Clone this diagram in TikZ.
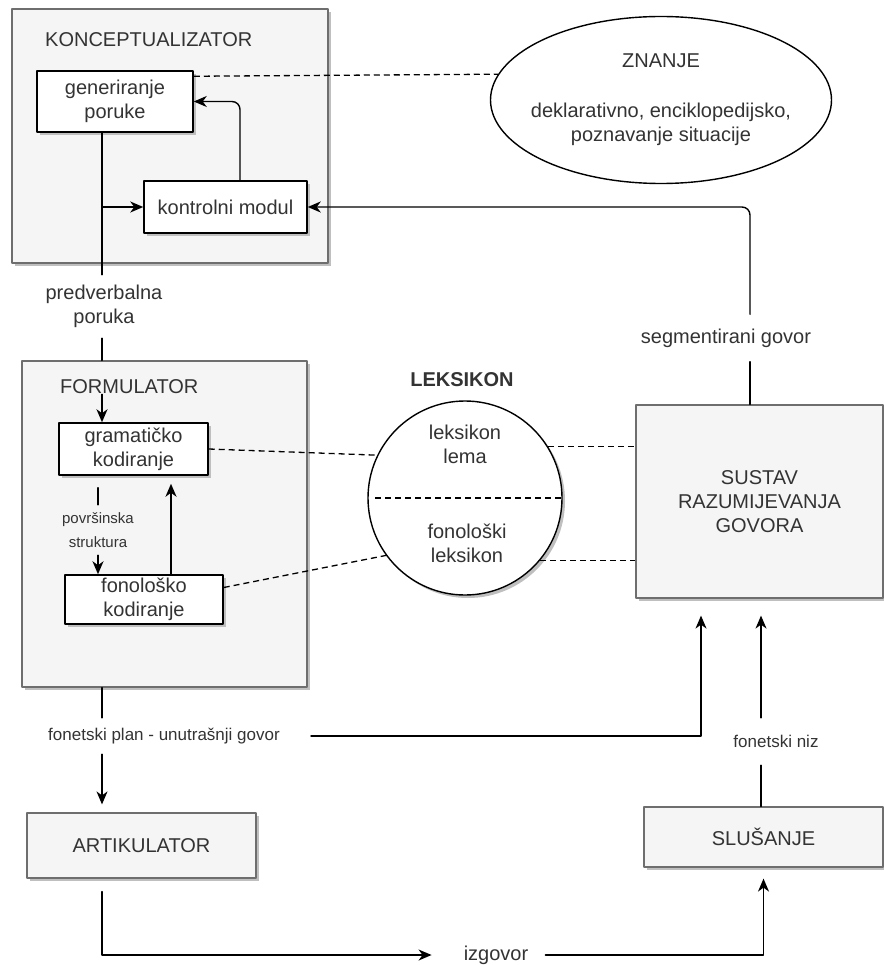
\documentclass[tikz,border=0pt]{standalone}
\usepackage{fontspec}
\setmainfont{Liberation Sans}
\usetikzlibrary{arrows.meta,shapes.geometric,shadows}
\definecolor{txtgray}{RGB}{51,51,51}
\definecolor{boxfill}{RGB}{245,245,245}
\definecolor{boxline}{RGB}{110,110,110}

\begin{document}
\begin{tikzpicture}[line cap=round,line join=round,>={Stealth[length=13pt,width=11pt,inset=4pt]},x=1pt,y=-1pt,
  txt/.style={text=txtgray,font=\fontsize{20}{24}\selectfont,align=center,inner sep=0pt},
  lbl/.style={text=txtgray,font=\fontsize{17}{21}\selectfont,align=center,inner sep=0pt},
  shad/.style={general shadow={fill=black!25,shadow xshift=3pt,shadow yshift=-3pt}},
  group/.style={draw=boxline,fill=boxfill,shad,line width=1.2pt},
  unit/.style={draw=black,fill=white,shad,line width=1.5pt,txt},
  dashline/.style={line cap=butt,dash pattern=on 6pt off 4pt,line width=1.3pt},
  link/.style={line width=1.4pt}]
\useasboundingbox (0,0) rectangle (883,965);
\coordinate (vl) at (102,0);
\coordinate (vs) at (750,0);
\coordinate (va) at (701,0);
\coordinate (vr) at (761,0);
% konceptualizator
\node[group,minimum width=316pt,minimum height=254pt] (konc) at (170,136) {};
\node[txt,anchor=west] (kl) at (45,40) {KONCEPTUALIZATOR};
\node[unit,minimum width=156pt,minimum height=61pt] (gen) at (115,101.5) {generiranje\\poruke};
\node[unit,minimum width=163pt,minimum height=52pt] (kon) at (225.5,207) {kontrolni modul};
\node[ellipse,draw=black,line width=1.4pt,inner sep=0pt,minimum width=341pt,minimum height=167pt] (zn) at (661,100) {};
\node[txt] (znt) at (zn) {ZNANJE\\[26pt]deklarativno, enciklopedijsko,\\poznavanje situacije};
\node[txt,minimum height=63pt] (pv) at (104,306.5) {predverbalna\\poruka};
% formulator
\node[group,minimum width=285pt,minimum height=326pt] (form) at (164.5,524) {};
\node[txt,anchor=west] (fl) at (60,387) {FORMULATOR};
\node[unit,minimum width=149pt,minimum height=52pt] (gram) at (133.5,449) {gramatičko\\kodiranje};
\node[unit,minimum width=158pt,minimum height=49pt] (fono) at (144,599.5) {fonološko\\kodiranje};
\node[lbl,font=\fontsize{15}{24}\selectfont,minimum height=50pt] (ps) at (98,530) {površinska\\struktura};
% leksikon
\node[txt,font=\bfseries\fontsize{20}{24}\selectfont] (lt) at (462,380) {LEKSIKON};
\node[circle,draw=black,fill=white,shad,line width=1.4pt,inner sep=0pt,minimum size=194pt] (lex) at (465,498) {};
\node[txt] (lema) at (465,444) {leksikon\\lema};
\node[txt] (fonlex) at (467,543) {fonološki\\leksikon};
% razumijevanje
\node[group,txt,minimum width=247pt,minimum height=193pt] (sus) at (759.5,501.5) {SUSTAV\\RAZUMIJEVANJA\\GOVORA};
\node[txt,minimum height=47pt] (seg) at (726,338) {segmentirani govor};
% dolje
\node[lbl,minimum height=36pt] (fp) at (164,736) {fonetski plan - unutrašnji govor};
\node[group,txt,minimum width=229pt,minimum height=65pt] (art) at (141.5,845.5) {ARTIKULATOR};
\node[group,txt,minimum width=239pt,minimum height=60pt] (slus) at (763.5,837) {SLUŠANJE};
\node[lbl,minimum height=47pt] (fn) at (776,741.5) {fonetski niz};
\node[txt] (izg) at (496,955) {izgovor};

\draw[link] (gen.south -| vl) -- (pv.north -| vl);
\draw[link] (pv.south -| vl) -- (form.north -| vl);
\draw[link,->] (kon.west -| vl) -- (kon.west);
\draw[link,->,rounded corners=8pt] ([xshift=14.5pt]kon.north) |- (gen.east);
\draw[dashline] ([yshift=-6pt]gen.north east) -- (zn.171);
\draw[link] (sus.north -| vs) -- (seg.south -| vs);
\draw[link,->,rounded corners=8pt] (seg.north -| vs) |- (kon.east);
\draw[link,->] (fl.south -| vl) -- (gram.north -| vl);
\draw[link,shorten <=12pt] (gram.south -| ps) -- (ps.north);
\draw[link,->] (ps.south) -- (ps.south |- fono.north);
\coordinate (fx) at ([xshift=27pt]fono.north);
\draw[link,->,shorten >=8pt] (fx) -- (fx |- gram.south);
\draw[dashline] (gram.east) -- (lex.154);
\draw[dashline] ([yshift=12pt]fono.east) -- (lex.216);
\draw[dashline] (lex.32) -- (lex.32 -| sus.west);
\draw[dashline] (lex.-40) -- (lex.-40 -| sus.west);
\draw[dashline] ([xshift=8pt]lex.west) -- (lex.east);
\draw[link] (form.south -| vl) -- (fp.north -| vl);
\draw[link,->,shorten >=8pt] (fp.south -| vl) -- (art.north -| vl);
\draw[link,->,shorten >=17pt] ([xshift=31pt]fp.east) -| (sus.south -| va);
\draw[link] (slus.north -| vr) -- (fn.south -| vr);
\draw[link,->,shorten >=17pt] (fn.north -| vr) -- (sus.south -| vr);
\draw[link,->,shorten <=13pt,shorten >=32pt] (art.south -| vl) |- (izg.west);
\draw[link,->,shorten >=11pt] ([xshift=17pt]izg.east) -| (slus.south);
\end{tikzpicture}
\end{document}
